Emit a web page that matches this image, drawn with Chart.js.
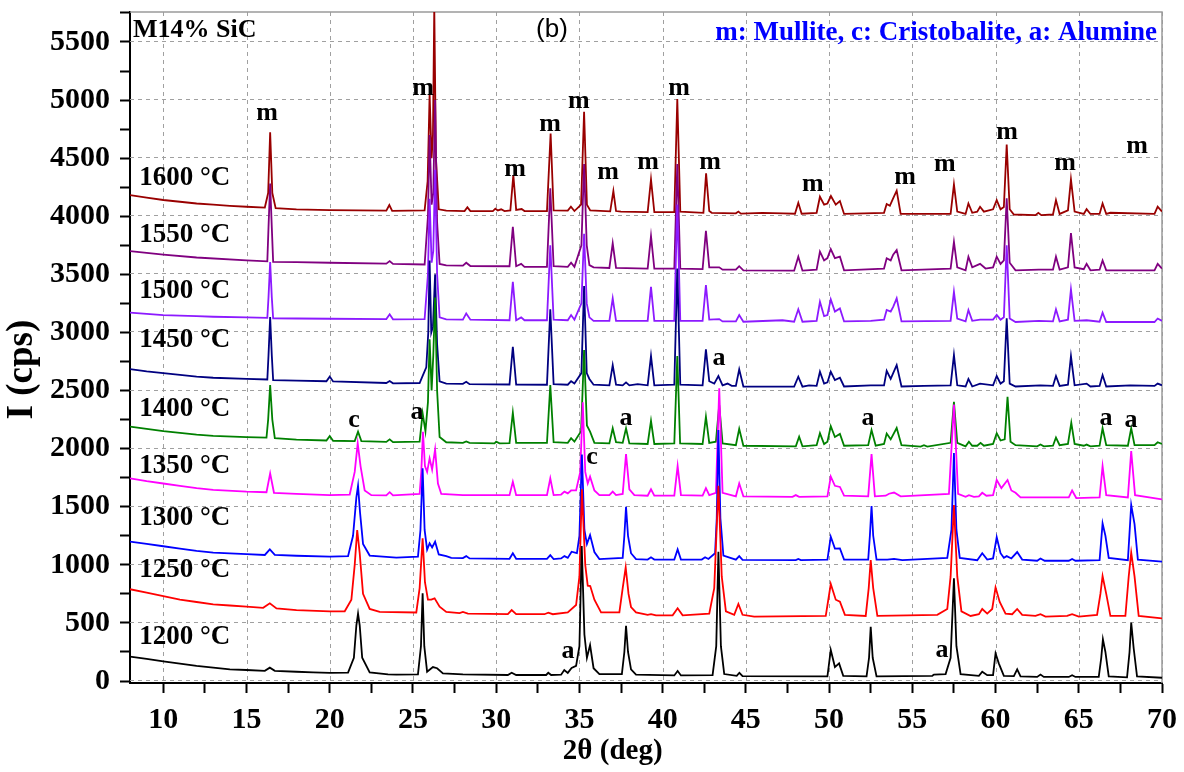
<!DOCTYPE html>
<html>
<head>
<meta charset="utf-8">
<script src="https://cdn.jsdelivr.net/npm/chart.js@4.4.1/dist/chart.umd.min.js"></script>
<style>
  html, body { margin: 0; background: #fff; }
  canvas { display: block; }
</style>
</head>
<body>
<canvas id="xrd" width="1184" height="772"></canvas>
<script>
// XRD patterns, [2theta, intensity]
const s1200 = [[8,210],[9,190],[10,170],[11,150],[12,130],[13,115],[14,100],[15,95],[16.1,88],[16.4,115],[16.7,88],[18,80],[19,75],[20,70],[21.1,72],[21.45,200],[21.6,480],[21.7,580],[21.8,480],[21.95,200],[22.4,75],[23.5,58],[24,55],[25.3,58],[25.48,300],[25.58,755],[25.68,300],[25.85,80],[26.2,120],[26.45,110],[26.8,65],[28,58],[30.7,52],[30.93,71],[31.2,52],[33,52],[33.13,71],[33.3,52],[33.9,55],[34.09,95],[34.3,70],[34.53,112],[34.8,130],[35.0,300],[35.14,1162],[35.3,400],[35.45,200],[35.64,310],[35.85,110],[36.2,60],[37.55,60],[37.7,250],[37.8,476],[37.92,250],[38.1,100],[38.4,55],[40.7,48],[40.9,86],[41.1,48],[43.0,50],[43.22,300],[43.35,1113],[43.5,300],[43.7,60],[44.45,45],[44.61,71],[44.8,42],[49.9,40],[50.1,267],[50.35,120],[50.6,152],[50.85,45],[52.25,40],[52.4,200],[52.5,467],[52.62,200],[52.85,40],[56.2,45],[56.3,55],[57.0,60],[57.3,200],[57.5,884],[57.65,300],[57.9,60],[59.0,45],[59.2,80],[59.5,50],[59.85,50],[60.0,238],[60.2,150],[60.5,45],[61.1,42],[61.3,100],[61.5,40],[62.5,35],[62.7,55],[62.9,35],[64.4,35],[64.6,50],[64.8,35],[66.2,35],[66.35,200],[66.45,359],[66.6,250],[66.8,40],[67.9,32],[68.05,250],[68.15,502],[68.3,280],[68.5,40],[70,28]];

const s1250 = [[8,790],[9,760],[10,730],[11,700],[12,680],[13,660],[14,650],[15,640],[16.0,630],[16.4,669],[16.8,625],[18,610],[20,600],[20.9,600],[21.3,700],[21.5,1000],[21.65,1300],[21.8,1100],[22.0,750],[22.4,620],[23,595],[25.2,590],[25.4,800],[25.58,1228],[25.72,850],[25.9,700],[26.1,700],[26.3,712],[26.6,640],[27,595],[27.8,585],[28.0,594],[28.3,580],[30.7,575],[30.93,611],[31.2,575],[32.9,575],[33.13,588],[33.4,575],[34.3,590],[34.8,654],[35.0,900],[35.15,1650],[35.35,1000],[35.5,820],[35.65,818],[35.9,700],[36.3,590],[37.4,590],[37.6,800],[37.78,978],[37.95,750],[38.1,637],[38.4,590],[39.1,570],[39.3,575],[39.6,565],[40.6,565],[40.9,626],[41.2,565],[42.8,580],[43.1,800],[43.35,1680],[43.55,900],[43.8,600],[44.3,570],[44.55,663],[44.8,570],[45.5,555],[49.8,560],[50.1,835],[50.4,700],[50.65,683],[50.95,570],[52.2,560],[52.38,800],[52.5,1041],[52.65,800],[52.9,560],[56.5,570],[57.1,620],[57.3,900],[57.5,1515],[57.7,900],[57.95,600],[58.5,560],[59.0,575],[59.2,620],[59.5,580],[59.8,620],[60.0,806],[60.25,680],[60.6,580],[61.0,575],[61.3,620],[61.6,570],[62.4,560],[62.7,575],[63,555],[64.3,560],[64.6,575],[65.0,555],[66.1,570],[66.3,750],[66.43,904],[66.65,750],[66.9,560],[67.8,560],[68.0,900],[68.15,1104],[68.35,900],[68.6,560],[70,540]];

const s1300 = [[8,1200],[9,1180],[10,1160],[11,1140],[12,1120],[13,1105],[15,1093],[16.1,1085],[16.4,1133],[16.7,1085],[18,1078],[20,1070],[21.1,1075],[21.4,1250],[21.6,1580],[21.7,1680],[21.82,1450],[22.0,1180],[22.4,1080],[24,1062],[25.3,1070],[25.45,1300],[25.58,1830],[25.7,1300],[25.85,1130],[26.0,1185],[26.15,1150],[26.33,1199],[26.55,1090],[27.0,1075],[27.3,1060],[28.0,1058],[28.2,1075],[28.4,1055],[30.8,1052],[31.0,1099],[31.2,1052],[33.05,1052],[33.25,1084],[33.45,1050],[33.9,1055],[34.1,1075],[34.3,1060],[34.53,1113],[34.85,1100],[35.0,1250],[35.15,1950],[35.3,1300],[35.45,1180],[35.64,1256],[35.9,1110],[36.2,1050],[37.6,1060],[37.7,1250],[37.8,1500],[37.92,1250],[38.1,1100],[38.4,1050],[39.1,1045],[39.3,1065],[39.5,1045],[40.7,1045],[40.9,1133],[41.1,1045],[42.35,1045],[42.55,1065],[42.75,1050],[43.15,1100],[43.25,1400],[43.35,2160],[43.47,1400],[43.65,1080],[44.4,1045],[44.6,1075],[44.8,1042],[48.0,1040],[48.15,1050],[48.3,1040],[49.9,1045],[50.1,1242],[50.35,1140],[50.65,1142],[50.9,1045],[52.35,1045],[52.45,1250],[52.55,1506],[52.65,1250],[52.85,1045],[53.5,1045],[53.9,1052],[54.4,1040],[57.1,1060],[57.35,1300],[57.5,1962],[57.65,1300],[57.85,1060],[58.9,1040],[59.2,1100],[59.5,1045],[59.85,1055],[60.07,1237],[60.3,1100],[60.5,1060],[60.67,1075],[60.95,1055],[61.3,1110],[61.6,1045],[62.5,1035],[62.7,1055],[62.95,1035],[64.4,1035],[64.6,1050],[64.8,1035],[66.25,1040],[66.43,1357],[66.6,1250],[66.8,1060],[67.95,1040],[68.15,1515],[68.35,1350],[68.55,1045],[70,1027]];

const s1350 = [[8,1744],[9,1720],[10,1700],[11,1680],[12,1660],[13,1645],[15,1630],[16.2,1625],[16.42,1787],[16.65,1620],[18,1610],[20,1600],[21.2,1605],[21.5,1800],[21.68,2045],[21.85,1850],[22.1,1640],[22.5,1600],[23.4,1598],[23.6,1625],[23.8,1598],[25.4,1610],[25.5,1800],[25.6,2146],[25.72,1850],[25.85,1800],[26.0,1916],[26.15,1820],[26.33,1994],[26.5,1700],[26.7,1610],[28,1600],[30.8,1600],[31.0,1715],[31.2,1600],[33.05,1600],[33.25,1745],[33.45,1600],[33.9,1605],[34.1,1630],[34.3,1615],[34.5,1640],[34.8,1640],[35.05,1800],[35.2,2400],[35.35,1800],[35.5,1700],[35.64,1759],[35.9,1640],[36.2,1600],[36.8,1600],[37.0,1630],[37.2,1600],[37.6,1610],[37.8,1954],[38.0,1650],[38.3,1600],[39.1,1595],[39.3,1650],[39.5,1595],[40.7,1595],[40.9,1850],[41.1,1600],[42.4,1595],[42.6,1660],[42.8,1600],[43.2,1620],[43.4,2519],[43.6,1620],[44.4,1590],[44.6,1700],[44.85,1590],[47.8,1585],[48.0,1600],[48.2,1585],[49.9,1590],[50.1,1759],[50.35,1680],[50.65,1670],[50.9,1595],[52.35,1590],[52.55,1953],[52.75,1590],[53.4,1595],[53.6,1612],[53.9,1622],[54.3,1590],[57.2,1610],[57.5,2380],[57.75,1610],[58.2,1585],[58.4,1600],[58.7,1585],[59.0,1590],[59.2,1620],[59.45,1595],[59.85,1600],[60.07,1730],[60.35,1660],[60.72,1730],[60.95,1640],[61.2,1620],[61.5,1580],[64.4,1580],[64.6,1640],[64.85,1575],[66.25,1580],[66.43,1850],[66.65,1600],[67.95,1580],[68.15,1979],[68.38,1600],[70,1564]];

const s1400 = [[8,2190],[9,2170],[10,2150],[11,2135],[12,2120],[13,2110],[15,2100],[16.2,2095],[16.3,2250],[16.42,2547],[16.55,2250],[16.7,2090],[18,2078],[19.8,2070],[20.0,2108],[20.2,2068],[21.5,2065],[21.7,2146],[21.9,2065],[23.4,2058],[23.6,2080],[23.8,2056],[25.4,2060],[25.58,2304],[25.75,2150],[25.9,2400],[26.0,2941],[26.12,2500],[26.22,2800],[26.33,3300],[26.45,2500],[26.6,2100],[27,2055],[28.0,2050],[28.2,2062],[28.4,2050],[29.9,2045],[30.0,2060],[30.2,2045],[30.8,2048],[31.0,2309],[31.2,2050],[33.05,2050],[33.25,2547],[33.45,2055],[34.3,2050],[34.5,2090],[34.7,2060],[35.1,2150],[35.28,2849],[35.45,2200],[35.64,2146],[35.9,2050],[36.8,2045],[37.0,2175],[37.2,2055],[37.6,2050],[37.8,2175],[38.0,2045],[39.1,2040],[39.3,2240],[39.5,2040],[40.7,2045],[40.88,2797],[41.05,2045],[42.4,2040],[42.6,2275],[42.8,2050],[43.2,2060],[43.4,2375],[43.6,2045],[44.4,2030],[44.6,2170],[44.85,2025],[48.0,2020],[48.2,2102],[48.4,2020],[49.25,2030],[49.45,2133],[49.7,2040],[49.9,2060],[50.1,2194],[50.35,2100],[50.65,2127],[50.9,2025],[52.35,2030],[52.55,2160],[52.8,2025],[53.3,2040],[53.46,2130],[53.7,2080],[54.06,2178],[54.35,2030],[55.5,2018],[55.7,2030],[55.9,2018],[57.3,2050],[57.5,2403],[57.7,2050],[58.2,2020],[58.4,2060],[58.6,2025],[58.9,2025],[59.1,2050],[59.3,2025],[59.85,2040],[60.07,2133],[60.3,2070],[60.55,2080],[60.72,2447],[60.9,2060],[61.2,2030],[62.5,2020],[62.7,2035],[62.9,2020],[63.45,2025],[63.63,2096],[63.85,2030],[64.35,2040],[64.55,2223],[64.75,2040],[65.3,2025],[65.47,2035],[65.7,2020],[66.25,2025],[66.43,2175],[66.65,2030],[67.95,2025],[68.15,2175],[68.35,2030],[69.55,2030],[69.74,2055],[70,2040]];

const s1450 = [[8,2685],[9,2665],[10,2650],[11,2635],[12,2620],[13,2610],[15,2600],[16.25,2595],[16.32,2800],[16.42,3132],[16.52,2800],[16.6,2590],[18,2585],[19.8,2580],[20.0,2620],[20.2,2578],[23.4,2565],[23.6,2582],[23.8,2562],[25.4,2565],[25.6,2633],[25.8,2700],[25.92,3000],[26.0,3620],[26.1,3000],[26.2,3050],[26.33,3500],[26.45,2900],[26.6,2580],[27,2560],[28.0,2558],[28.2,2575],[28.4,2555],[30.8,2552],[31.0,2877],[31.2,2552],[33.05,2550],[33.25,3199],[33.45,2555],[34.3,2550],[34.5,2580],[34.7,2560],[35.12,2650],[35.28,3400],[35.44,2650],[35.6,2600],[35.85,2550],[36.8,2545],[37.0,2719],[37.2,2550],[37.6,2545],[37.8,2570],[38.0,2545],[38.5,2555],[39.1,2545],[39.3,2797],[39.5,2545],[40.7,2550],[40.88,3550],[41.06,2550],[42.4,2545],[42.6,2855],[42.8,2580],[43.1,2560],[43.35,2625],[43.6,2545],[43.9,2560],[44.15,2540],[44.4,2540],[44.6,2682],[44.85,2535],[47.9,2533],[48.15,2619],[48.4,2533],[48.8,2545],[49.25,2540],[49.45,2662],[49.7,2560],[49.9,2570],[50.1,2662],[50.35,2590],[50.65,2610],[50.9,2535],[52.5,2545],[53.3,2545],[53.46,2670],[53.7,2600],[54.06,2719],[54.35,2535],[55.7,2540],[57.3,2545],[57.5,2806],[57.7,2545],[58.2,2535],[58.37,2600],[58.6,2535],[59.07,2560],[59.85,2545],[60.07,2625],[60.3,2560],[60.5,2580],[60.67,3121],[60.85,2560],[61.2,2535],[62.7,2545],[63.45,2540],[63.63,2625],[63.85,2540],[64.35,2550],[64.53,2797],[64.75,2545],[65.47,2560],[65.7,2535],[66.25,2540],[66.43,2633],[66.65,2535],[68.1,2545],[69.55,2540],[69.74,2560],[70,2545]];

const s1500 = [[8,3170],[9,3160],[10,3150],[11,3145],[12,3140],[13,3135],[15,3130],[16.25,3125],[16.32,3300],[16.42,3606],[16.52,3300],[16.6,3122],[18,3120],[20,3118],[23.4,3115],[23.6,3156],[23.8,3113],[25.7,3115],[25.9,3500],[26.0,4150],[26.12,3600],[26.22,3700],[26.33,4400],[26.45,3500],[26.6,3130],[27,3112],[28.0,3110],[28.2,3164],[28.45,3110],[30.8,3105],[31.0,3436],[31.2,3105],[31.5,3130],[31.7,3105],[33.05,3105],[33.25,3750],[33.45,3110],[34.3,3105],[34.5,3150],[34.7,3110],[35.12,3250],[35.28,3850],[35.44,3250],[35.6,3130],[35.85,3100],[36.8,3100],[37.0,3293],[37.2,3100],[39.1,3100],[39.3,3393],[39.5,3100],[40.7,3100],[40.88,4100],[41.06,3100],[42.4,3100],[42.6,3408],[42.8,3110],[43.4,3115],[43.6,3095],[44.4,3095],[44.6,3150],[44.85,3092],[47.2,3105],[47.9,3092],[48.15,3199],[48.4,3092],[49.25,3100],[49.45,3264],[49.7,3140],[49.9,3150],[50.1,3285],[50.35,3180],[50.65,3207],[50.9,3095],[52.5,3100],[53.3,3110],[53.46,3193],[53.7,3180],[53.85,3220],[54.06,3293],[54.35,3095],[57.3,3100],[57.5,3350],[57.7,3120],[58.2,3095],[58.37,3193],[58.6,3100],[59.07,3110],[59.85,3110],[60.07,3150],[60.3,3110],[60.5,3130],[60.67,3750],[60.85,3120],[61.2,3090],[62.6,3100],[63.45,3095],[63.63,3199],[63.85,3095],[64.35,3110],[64.53,3371],[64.75,3100],[65.47,3105],[66.25,3092],[66.43,3170],[66.65,3090],[69.55,3090],[69.74,3120],[70,3100]];

const s1550 = [[8,3700],[9,3685],[10,3670],[12,3645],[15,3620],[16.25,3612],[16.32,3900],[16.42,4282],[16.52,3900],[16.6,3608],[18,3605],[20,3600],[23.4,3592],[23.6,3614],[23.8,3590],[25.7,3585],[25.9,4000],[26.0,4700],[26.12,4100],[26.22,4200],[26.33,5000],[26.45,3950],[26.6,3590],[27,3578],[28.0,3575],[28.2,3600],[28.45,3572],[30.8,3570],[31.0,3910],[31.2,3570],[31.5,3590],[31.7,3565],[33.05,3565],[33.25,4240],[33.45,3570],[34.3,3565],[34.5,3600],[34.7,3565],[35.12,3750],[35.28,4450],[35.44,3750],[35.6,3580],[35.85,3560],[36.8,3555],[37.0,3767],[37.2,3555],[39.1,3550],[39.3,3830],[39.5,3550],[40.7,3550],[40.88,4450],[41.06,3550],[42.4,3545],[42.6,3875],[42.8,3560],[43.4,3560],[43.6,3540],[44.4,3540],[44.6,3570],[44.85,3535],[47.9,3532],[48.15,3652],[48.4,3532],[49.25,3540],[49.45,3695],[49.7,3620],[49.9,3640],[50.1,3718],[50.35,3640],[50.65,3652],[50.9,3535],[53.3,3550],[53.46,3638],[53.7,3620],[53.85,3670],[54.06,3710],[54.35,3535],[57.3,3550],[57.5,3780],[57.7,3560],[58.2,3535],[58.37,3652],[58.6,3560],[59.07,3590],[59.4,3550],[59.85,3560],[60.07,3652],[60.3,3590],[60.5,3620],[60.67,4154],[60.85,3600],[61.2,3535],[62.6,3540],[63.45,3540],[63.63,3652],[63.85,3540],[64.35,3560],[64.53,3855],[64.75,3560],[65.3,3545],[65.47,3590],[65.7,3535],[66.25,3540],[66.43,3620],[66.65,3535],[69.55,3535],[69.74,3590],[70,3550]];

const s1600 = [[8,4182],[9,4160],[10,4140],[11,4125],[12,4110],[13,4100],[14,4090],[15,4082],[16.1,4075],[16.3,4200],[16.42,4722],[16.55,4200],[16.75,4070],[18,4060],[20,4053],[23.4,4048],[23.58,4097],[23.75,4047],[25.7,4050],[25.88,4300],[26.0,5050],[26.12,4500],[26.2,4700],[26.28,5800],[26.38,4500],[26.55,4060],[27,4048],[28.1,4045],[28.27,4077],[28.45,4045],[29.8,4045],[29.95,4065],[30.1,4050],[30.3,4060],[30.5,4045],[30.85,4050],[31.03,4354],[31.2,4055],[31.53,4062],[31.7,4045],[33.05,4045],[33.27,4712],[33.45,4050],[34.3,4048],[34.49,4082],[34.7,4045],[35.1,4100],[35.28,4900],[35.45,4100],[35.65,4050],[36.85,4042],[37.04,4217],[37.2,4045],[37.5,4040],[39.1,4035],[39.3,4317],[39.5,4035],[40.7,4035],[40.88,5009],[41.06,4040],[42.45,4030],[42.61,4369],[42.8,4045],[42.95,4030],[44.4,4025],[44.55,4040],[44.7,4022],[46.0,4030],[47.25,4025],[47.95,4022],[48.15,4116],[48.35,4022],[49.25,4030],[49.45,4168],[49.7,4100],[49.9,4110],[50.11,4174],[50.4,4100],[50.65,4131],[50.9,4020],[53.3,4030],[53.46,4105],[53.65,4090],[53.82,4145],[54.06,4220],[54.3,4020],[57.3,4020],[57.5,4273],[57.7,4040],[58.2,4020],[58.37,4110],[58.6,4030],[58.9,4040],[59.07,4082],[59.3,4040],[59.85,4060],[60.07,4139],[60.3,4060],[60.5,4080],[60.67,4618],[60.85,4060],[61.1,4015],[62.4,4010],[62.57,4030],[62.75,4010],[63.45,4015],[63.63,4139],[63.85,4020],[64.35,4050],[64.53,4317],[64.75,4040],[65.3,4020],[65.47,4061],[65.7,4020],[66.25,4020],[66.43,4110],[66.65,4020],[66.9,4030],[69.55,4020],[69.74,4082],[70,4040]];

const temps = ['1200 °C', '1250 °C', '1300 °C', '1350 °C', '1400 °C', '1450 °C', '1500 °C', '1550 °C', '1600 °C'];
const series = [s1200, s1250, s1300, s1350, s1400, s1450, s1500, s1550, s1600];
const colors = ['#000000', '#ff0000', '#0000ff', '#ff00ff', '#008000', '#000080', '#8c1aff', '#800080', '#990000'];

// axis ticks (major ones get a label and a dashed grid line)
const xTicks = [10, 12.5, 15, 17.5, 20, 22.5, 25, 27.5, 30, 32.5, 35, 37.5, 40, 42.5, 45, 47.5, 50, 52.5, 55, 57.5, 60, 62.5, 65, 67.5, 70];
const yTicks = [0, 250, 500, 750, 1000, 1250, 1500, 1750, 2000, 2250, 2500, 2750, 3000, 3250, 3500, 3750, 4000, 4250, 4500, 4750, 5000, 5250, 5500, 5750];

// where the temperature names sit (data coords)
const tempLabelX = 8.55;
const tempLabelY = [379, 955, 1403, 1850, 2341, 2935, 3356, 3838, 4329];

// phase marks: letter, 2theta, intensity
const phaseText = ['m','m','m','m','m','m','m','m','m','m','m','m','m','m','m','c','a','a','c','a','a','a','a','a','a'];
const phaseX = [16.23, 25.60, 31.13, 33.23, 34.97, 36.72, 39.12, 40.98, 42.85, 49.03, 54.56, 56.96, 60.69, 64.17, 68.50, 21.46, 25.24, 37.80, 35.76, 43.39, 52.34, 66.64, 68.14, 34.31, 56.78];
const phaseY = [4888, 5103, 4406, 4793, 4991, 4380, 4466, 5103, 4466, 4277, 4337, 4449, 4725, 4458, 4604, 2246, 2315, 2263, 1928, 2780, 2263, 2263, 2246, 258, 267];

const xMin = 8, xMax = 70;
const yMin = -17, yMax = 5758;

const serif = '"Liberation Serif", "Times New Roman", serif';

// dashed grid at major ticks, under the patterns
const gridPlugin = {
  id: 'xrdGrid',
  beforeDatasetsDraw(chart) {
    const { ctx, chartArea: a, scales: { x, y } } = chart;
    ctx.save();
    ctx.strokeStyle = '#a0a0a0';
    ctx.lineWidth = 1;
    ctx.setLineDash([4, 4]);
    ctx.beginPath();
    xTicks.filter(v => v % 5 === 0).forEach(v => {
      const px = Math.round(x.getPixelForValue(v)) + 0.5;
      ctx.moveTo(px, a.top);
      ctx.lineTo(px, a.bottom);
    });
    yTicks.filter(v => v % 500 === 0).forEach(v => {
      const py = Math.round(y.getPixelForValue(v)) - 0.5;
      ctx.moveTo(a.left, py);
      ctx.lineTo(a.right, py);
    });
    ctx.stroke();
    ctx.setLineDash([]);
    // grey frame on top and right
    ctx.strokeStyle = '#9a9a9a';
    ctx.lineWidth = 1.5;
    ctx.beginPath();
    ctx.moveTo(a.left, a.top);
    ctx.lineTo(a.right, a.top);
    ctx.lineTo(a.right, a.bottom);
    ctx.stroke();
    ctx.restore();
  }
};

const textPlugin = {
  id: 'xrdText',
  afterDatasetsDraw(chart) {
    const { ctx, chartArea: a, scales: { x, y } } = chart;
    ctx.save();
    ctx.fillStyle = '#000';
    ctx.textBaseline = 'middle';
    ctx.textAlign = 'left';
    ctx.font = 'bold 27px ' + serif;
    temps.forEach((t, i) => {
      ctx.fillText(t, x.getPixelForValue(tempLabelX), y.getPixelForValue(tempLabelY[i]));
    });

    ctx.textAlign = 'center';
    ctx.font = 'bold 26px ' + serif;
    phaseText.forEach((t, i) => {
      ctx.fillText(t, x.getPixelForValue(phaseX[i]), y.getPixelForValue(phaseY[i]));
    });

    ctx.textAlign = 'left';
    ctx.font = 'bold 26px ' + serif;
    ctx.fillText('M14% SiC', x.getPixelForValue(8.18), y.getPixelForValue(5600));

    ctx.textAlign = 'center';
    ctx.font = '26px "Liberation Sans", Arial, sans-serif';
    ctx.fillText('(b)', x.getPixelForValue(33.35), y.getPixelForValue(5602));

    ctx.textAlign = 'right';
    ctx.fillStyle = '#0000ff';
    ctx.font = 'bold 27px ' + serif;
    ctx.fillText('m: Mullite, c: Cristobalite, a: Alumine', x.getPixelForValue(69.7), y.getPixelForValue(5577));

    // axis titles
    ctx.fillStyle = '#000';
    ctx.textAlign = 'center';
    ctx.font = 'bold 29px ' + serif;
    ctx.fillText('2θ (deg)', x.getPixelForValue(37), a.bottom + 69);
    ctx.save();
    ctx.translate(22, y.getPixelForValue(2680));
    ctx.rotate(-Math.PI / 2);
    ctx.font = 'bold 37px ' + serif;
    ctx.fillText('I (cps)', 0, 0);
    ctx.restore();
    ctx.restore();
  }
};

const ctx = document.getElementById('xrd').getContext('2d');
new Chart(ctx, {
  type: 'line',
  data: {
    datasets: series.map((d, i) => ({
      label: temps[i],
      data: d,
      borderColor: colors[i],
      borderWidth: 1.8,
      pointRadius: 0,
      tension: 0,
      fill: false
    }))
  },
  options: {
    responsive: false,
    animation: false,
    events: [],
    layout: { padding: { left: 0, top: 12, right: 22, bottom: 0 } },
    plugins: { legend: { display: false }, tooltip: { enabled: false } },
    scales: {
      x: {
        type: 'linear',
        min: xMin,
        max: xMax,
        afterBuildTicks: (s) => { s.ticks = xTicks.map(v => ({ value: v })); },
        afterFit: (s) => { s.height = 89; s.paddingLeft = 0; s.paddingRight = 0; },
        ticks: {
          padding: 9,
          color: '#000',
          font: { family: serif, size: 30, weight: 'bold' },
          maxRotation: 0,
          autoSkip: false,
          callback: (v) => (v % 5 === 0 ? String(v) : '')
        },
        grid: {
          drawOnChartArea: false,
          tickColor: '#000',
          tickLength: 10,
          tickWidth: 2
        },
        border: { display: true, color: '#000', width: 2 }
      },
      y: {
        type: 'linear',
        min: yMin,
        max: yMax,
        afterBuildTicks: (s) => { s.ticks = yTicks.map(v => ({ value: v })); },
        afterFit: (s) => { s.width = 130; s.paddingTop = 0; s.paddingBottom = 0; },
        ticks: {
          padding: 10,
          color: '#000',
          font: { family: serif, size: 30, weight: 'bold' },
          autoSkip: false,
          callback: (v) => (v % 500 === 0 ? String(v) : '')
        },
        grid: {
          drawOnChartArea: false,
          tickColor: '#000',
          tickLength: 10,
          tickWidth: 2
        },
        border: { display: true, color: '#000', width: 2 }
      }
    }
  },
  plugins: [gridPlugin, textPlugin]
});
</script>
</body>
</html>
